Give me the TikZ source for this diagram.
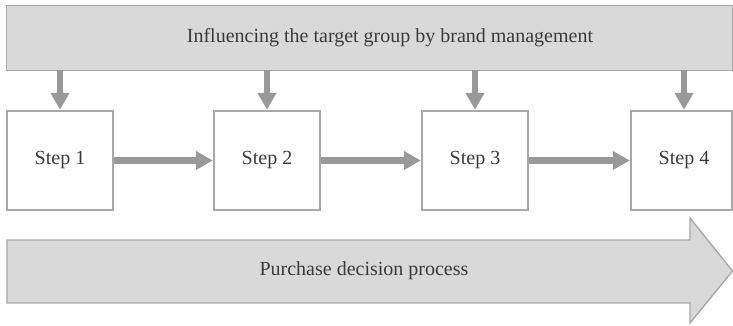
\documentclass[tikz,border=0pt]{standalone}
\usepackage{fontspec}
\setmainfont{Liberation Serif}
\usetikzlibrary{arrows.meta}
\definecolor{barfill}{HTML}{D9D9D9}
\definecolor{edge}{HTML}{A8A8A8}
\definecolor{arr}{HTML}{999999}
\definecolor{txt}{HTML}{3A3A3A}
\begin{document}
\begin{tikzpicture}[x=1pt,y=-1pt,
  bar/.style={draw=edge,line width=1.4pt,fill=barfill,text=txt,font=\fontsize{20}{24}\selectfont},
  stepbox/.style={draw=edge,line width=1.4pt,fill=white,text=txt,minimum width=106pt,minimum height=99pt,inner sep=0pt,font=\fontsize{20}{24}\selectfont},
  flow/.style={draw=arr,line width=6.5pt,-{Triangle[length=17pt,width=18pt]},shorten >=0.5pt},
  lbl/.style={text=txt,font=\fontsize{20}{24}\selectfont,inner sep=0pt}]
\useasboundingbox (0,0) rectangle (733,326);
\node[bar,minimum width=726pt,minimum height=65pt,inner sep=0pt,anchor=north west] (top) at (6,5) {};
\node[lbl] (toptxt) at (390,38) {Influencing the target group by brand management};
\node[stepbox] (s1) at (60,160.5) {Step 1};
\node[stepbox] (s2) at (267,160.5) {Step 2};
\node[stepbox] (s3) at (475,160.5) {Step 3};
\node[stepbox,minimum width=101pt] (s4) at (681.5,160.5) {};
\node[lbl] (s4txt) at (684,160.5) {Step 4};
\foreach \i/\xx in {1/60,2/267,3/475,4/684}{
  \coordinate (d\i) at (\xx,70);
  \draw[flow] (d\i) -- (d\i |- s\i.north);
}
\draw[flow] (s1) -- (s2);
\draw[flow] (s2) -- (s3);
\draw[flow] (s3) -- (s4);
\draw[draw=edge,line width=1.4pt,fill=barfill,line join=miter]
  (7,240) -- (690,240) -- (690,218) -- (732.5,271) -- (690,323) -- (690,303) -- (7,303) -- cycle;
\node[lbl] (proc) at (364,271) {Purchase decision process};
\end{tikzpicture}
\end{document}
